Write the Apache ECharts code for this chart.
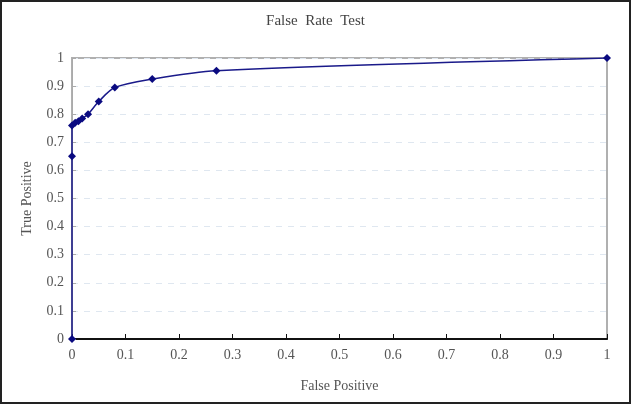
<!DOCTYPE html>
<html><head><meta charset="utf-8">
<script src="https://cdn.jsdelivr.net/npm/echarts@6/dist/echarts.min.js"></script>
<style>html,body{margin:0;padding:0;background:#fff}#c{width:627px;height:400px;border:2px solid #222}</style>
</head><body><div id="c"></div>
<script>
const xValues = [0, 0, 0, 0.006, 0.012, 0.019, 0.03, 0.05, 0.08, 0.15, 0.27, 1];
const yValues = [0, 0.65, 0.76, 0.77, 0.775, 0.785, 0.80, 0.845, 0.895, 0.925, 0.955, 1];
const xTicks = [0,0.1,0.2,0.3,0.4,0.5,0.6,0.7,0.8,0.9,1];
const yTicks = [0,0.1,0.2,0.3,0.4,0.5,0.6,0.7,0.8,0.9,1];
const font = "'Liberation Serif', serif";
const chart = echarts.init(document.getElementById('c'));
chart.setOption({
  animation:false,
  title:{text:'False  Rate  Test',left:'center',top:7,textStyle:{fontFamily:font,fontSize:15,fontWeight:'normal',color:'#444'}},
  grid:{left:70,right:22,top:56,bottom:63,show:true,borderColor:'#b0b0b0',borderWidth:2},
  xAxis:{type:'value',min:0,max:1,interval:0.1,name:'False Positive',nameLocation:'middle',nameGap:40,
    nameTextStyle:{fontFamily:font,fontSize:14,color:'#555'},
    axisLine:{lineStyle:{color:'#111',width:2}},axisTick:{inside:true,length:5,lineStyle:{color:'#111'}},
    axisLabel:{fontFamily:font,fontSize:14,color:'#555',margin:9,formatter:v=>String(+v.toFixed(1))},splitLine:{show:false}},
  yAxis:{type:'value',min:0,max:1,interval:0.1,name:'True Positive',nameLocation:'middle',nameGap:38,
    nameTextStyle:{fontFamily:font,fontSize:14,color:'#555'},
    axisLine:{show:true,lineStyle:{color:'#aaa'}},axisTick:{show:true,inside:true,length:4,lineStyle:{color:'#aaa'}},
    axisLabel:{fontFamily:font,fontSize:14,color:'#555',margin:8,formatter:v=>String(+v.toFixed(1))},
    splitLine:{show:true,lineStyle:{color:'#dfe7f0',type:[6,6]}}},
  series:[{type:'line',data:xValues.map((x,i)=>[x,yValues[i]]),smooth:0.3,symbol:'diamond',symbolSize:8,
    lineStyle:{color:'#1a1a8a',width:1.5},itemStyle:{color:'#0a0a80'}}]
});
</script></body></html>
